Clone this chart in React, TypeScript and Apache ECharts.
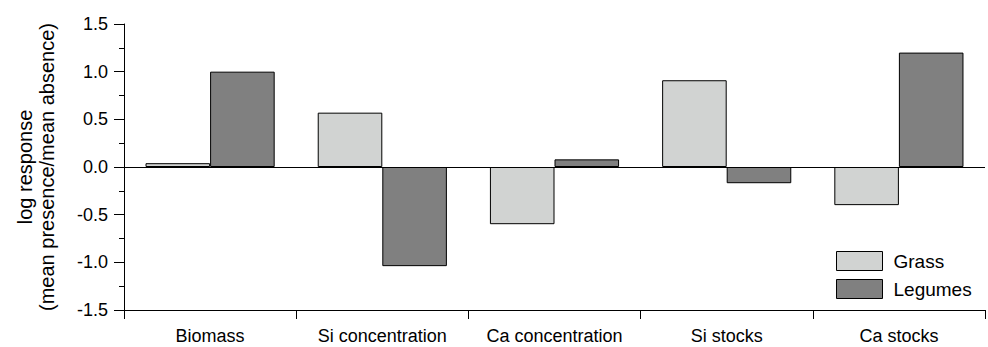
import React, { useEffect, useRef } from "react";
import * as echarts from "echarts";

const categories = ["Biomass", "Si concentration", "Ca concentration", "Si stocks", "Ca stocks"];
const grassValues = [0.04, 0.57, -0.6, 0.91, -0.4];
const legumeValues = [1.0, -1.04, 0.08, -0.17, 1.2];
const seriesNames = ["Grass", "Legumes"];
const yAxisName = "log response\n(mean presence/mean absence)";

const FONT = "'Liberation Sans', Arial, sans-serif";

export default function App() {
  const ref = useRef<HTMLDivElement>(null);
  useEffect(() => {
    if (!ref.current) return;
    const chart = echarts.init(ref.current, null, { renderer: "svg" });
    chart.setOption({
      animation: false,
      textStyle: { fontFamily: FONT, color: "#000" },
      grid: { left: 124, right: 3, top: 24, bottom: 37, containLabel: false },
      legend: {
        orient: "vertical",
        left: 836,
        top: 251,
        padding: 0,
        itemWidth: 46,
        itemHeight: 19,
        itemGap: 8,
        icon: "rect",
        data: seriesNames,
        textStyle: { fontFamily: FONT, fontSize: 19, color: "#000", padding: [0, 0, 0, 6] },
        itemStyle: { borderColor: "#000", borderWidth: 1 },
      },
      xAxis: {
        type: "category",
        data: categories,
        boundaryGap: true,
        axisLine: { show: true, onZero: false, lineStyle: { color: "#000", width: 1 } },
        axisTick: { show: true, length: 9, inside: false, interval: 0, lineStyle: { color: "#000" } },
        axisLabel: { fontFamily: FONT, fontSize: 18, color: "#000", margin: 17, interval: 0 },
        splitLine: { show: false },
      },
      yAxis: {
        type: "value",
        min: -1.5,
        max: 1.5,
        interval: 0.5,
        name: yAxisName,
        nameLocation: "middle",
        nameRotate: 90,
        nameGap: 66,
        nameTextStyle: { fontFamily: FONT, fontSize: 20, lineHeight: 22, color: "#000", align: "center" },
        axisLine: { show: true, lineStyle: { color: "#000", width: 1 } },
        axisTick: { show: true, length: 10, inside: false, lineStyle: { color: "#000" } },
        minorTick: { show: true, splitNumber: 2, length: 5, lineStyle: { color: "#000" } },
        axisLabel: {
          fontFamily: FONT,
          fontSize: 18,
          color: "#000",
          margin: 16,
          formatter: (v: number) => v.toFixed(1),
        },
        splitLine: { show: false },
      },
      series: [
        {
          name: seriesNames[0],
          type: "bar",
          data: grassValues,
          barGap: "0%",
          barCategoryGap: "25%",
          itemStyle: { color: "#d1d3d2", borderColor: "#000", borderWidth: 1 },
          markLine: {
            silent: true,
            symbol: ["none", "none"],
            label: { show: false },
            lineStyle: { color: "#000", width: 1, type: "solid" },
            data: [{ yAxis: 0 }],
          },
        },
        {
          name: seriesNames[1],
          type: "bar",
          data: legumeValues,
          barGap: "0%",
          barCategoryGap: "25%",
          itemStyle: { color: "#808080", borderColor: "#000", borderWidth: 1 },
        },
      ],
    });
    return () => chart.dispose();
  }, []);
  return (
    <div
      ref={ref}
      style={{ position: "absolute", left: 0, top: 0, width: 988, height: 347, background: "#fff" }}
    />
  );
}
